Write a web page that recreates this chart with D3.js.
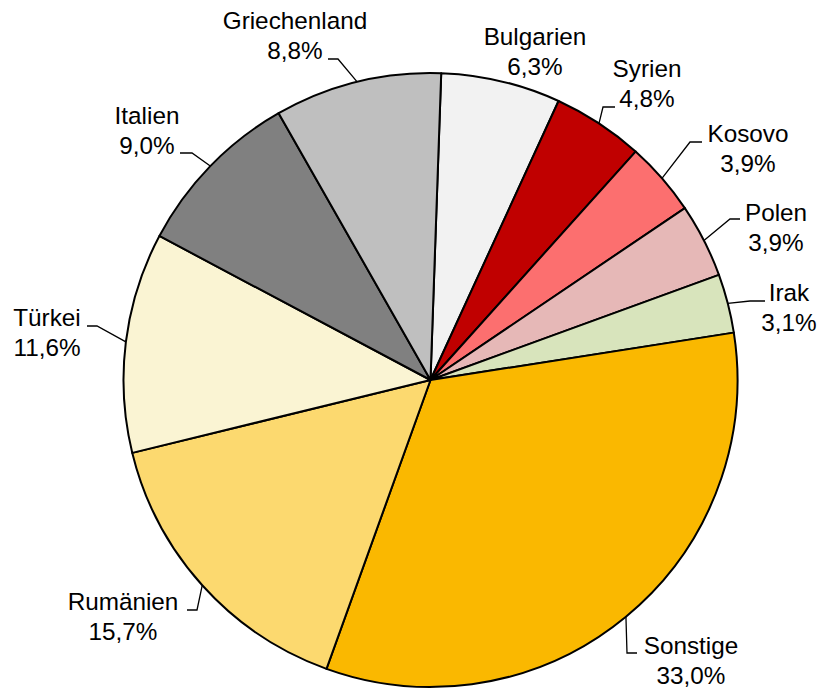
<!DOCTYPE html>
<html><head><meta charset="utf-8">
<script src="https://cdn.jsdelivr.net/npm/d3@7"></script>
<style>body{margin:0;background:#fff}svg{display:block}text{font-family:"Liberation Sans",Arial,sans-serif;font-size:24.3px;fill:#000}</style>
</head><body>
<svg id="chart" width="821" height="689"></svg>
<script>
const categories = ["Bulgarien","Syrien","Kosovo","Polen","Irak","Sonstige","Rumänien","Türkei","Italien","Griechenland"];
const values = [6.3,4.8,3.9,3.9,3.1,33.0,15.7,11.6,9.0,8.8];
const valueLabels = ["6,3%","4,8%","3,9%","3,9%","3,1%","33,0%","15,7%","11,6%","9,0%","8,8%"];
const colors = ["#F2F2F2","#C00000","#FC6F6F","#E6B8B7","#D8E4BC","#FAB800","#FCD96F","#FAF4D3","#808080","#BFBFBF"];

// label layout: text center x, first baseline y, leader (text end, elbow) or null
const labelLayout = [
  {x:535, y:45, leader:null},
  {x:647, y:77, leader:[[615,107],[603,107]]},
  {x:748, y:142, leader:[[702,142],[690,142]]},
  {x:776, y:221, leader:[[740,219],[730,219]]},
  {x:789, y:301, leader:[[765,301],[750,301]]},
  {x:691, y:654, leader:[[637,653],[627,653]]},
  {x:123, y:610, leader:[[187,610],[197,610]]},
  {x:47, y:326, leader:[[87,326],[97,326]]},
  {x:147, y:124, leader:[[180,153],[192,153]]},
  {x:295, y:29, leader:[[328,59],[338,59]]}
];

const cx = 430.5, cy = 380, r = 307;
const startDeg = 2;
const svg = d3.select("#chart");
const g = svg.append("g").attr("transform", `translate(${cx},${cy})`);

const pie = d3.pie().sort(null).value(d => d)
  .startAngle(startDeg*Math.PI/180).endAngle(startDeg*Math.PI/180 + 2*Math.PI);
const arcs = pie(values);
const arc = d3.arc().innerRadius(0).outerRadius(r);

g.selectAll("path.slice").data(arcs).join("path")
  .attr("class","slice")
  .attr("d", arc)
  .attr("fill", (d,i) => colors[i])
  .attr("stroke", "#000").attr("stroke-width", 2).attr("stroke-linejoin","round");

// leaders
arcs.forEach((d,i) => {
  const L = labelLayout[i];
  if (!L.leader) return;
  const mid = (d.startAngle + d.endAngle)/2;
  const px = cx + r*Math.sin(mid), py = cy - r*Math.cos(mid);
  const pts = [L.leader[0], L.leader[1], [px,py]];
  svg.append("path").attr("d", d3.line()(pts))
    .attr("fill","none").attr("stroke","#000").attr("stroke-width",1.3);
});

// labels
arcs.forEach((d,i) => {
  const L = labelLayout[i];
  const t = svg.append("text").attr("text-anchor","middle");
  t.append("tspan").attr("x", L.x).attr("y", L.y).text(categories[i]);
  t.append("tspan").attr("x", L.x).attr("y", L.y + 29.5).text(valueLabels[i]);
});
</script>
</body></html>
